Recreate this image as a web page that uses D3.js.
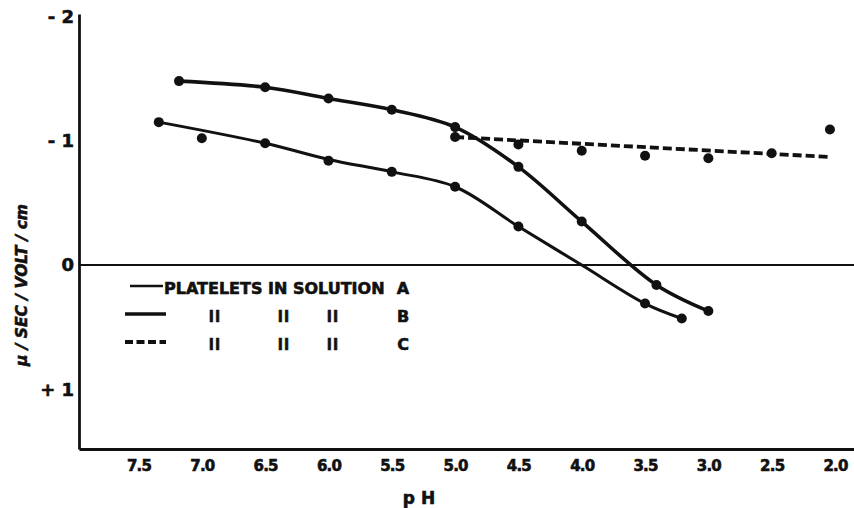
<!DOCTYPE html>
<html>
<head>
<meta charset="utf-8">
<script src="https://cdn.jsdelivr.net/npm/d3@7"></script>
<style>
  body { margin: 0; background: #fff; }
  text { font-family: "DejaVu Sans", sans-serif; font-weight: bold; fill: #111; stroke: #111; stroke-width: 0.6px; }
</style>
</head>
<body>
<div id="chart"></div>
<script>
// pH ticks and mobility ticks
var xTicks = [7.5, 7.0, 6.5, 6.0, 5.5, 5.0, 4.5, 4.0, 3.5, 3.0, 2.5, 2.0];
var yTicks = [-2, -1, 0, 1];
var yTickLabels = ["- 2", "- 1", "0", "+ 1"];

// solution A : measured points and drawn curve
var aPH = [7.34, 7.0, 6.5, 6.0, 5.5, 5.0, 4.5, 3.5, 3.21];
var aMob = [-1.15, -1.02, -0.98, -0.84, -0.75, -0.63, -0.31, 0.31, 0.43];
var aCurvePH = [7.34, 6.5, 6.0, 5.5, 5.0, 4.5, 4.0, 3.5, 3.21];
var aCurveMob = [-1.15, -0.98, -0.85, -0.75, -0.63, -0.31, 0.0, 0.31, 0.43];

// solution B
var bPH = [7.18, 6.5, 6.0, 5.5, 5.0, 4.5, 4.0, 3.41, 3.0];
var bMob = [-1.48, -1.43, -1.34, -1.25, -1.11, -0.79, -0.35, 0.16, 0.37];

// solution C : points and straight dashed fit
var cPH = [5.0, 4.5, 4.0, 3.5, 3.0, 2.5, 2.04];
var cMob = [-1.03, -0.97, -0.92, -0.88, -0.86, -0.90, -1.09];
var cFitPH = [5.0, 2.05];
var cFitMob = [-1.03, -0.87];

var legendRows = ["A", "B", "C"];

var width = 854, height = 508;

var svg = d3.select("#chart")
    .append("svg")
    .attr("width", width)
    .attr("height", height);

var x = d3.scaleLinear().domain([7.97, 1.85]).range([79, 854]);
var y = d3.scaleLinear().domain([-2.02, 1.48]).range([14, 449]);

// zero line
svg.append("line")
    .attr("x1", x.range()[0]).attr("x2", x.range()[1])
    .attr("y1", y(0)).attr("y2", y(0))
    .attr("stroke", "#111")
    .attr("stroke-width", 2);

var xAxis = svg.append("g")
    .attr("transform", "translate(0," + y.range()[1] + ")")
    .call(d3.axisBottom(x).tickValues(xTicks).tickSize(0).tickSizeOuter(0)
        .tickPadding(11).tickFormat(d3.format(".1f")));
xAxis.select(".domain").attr("stroke", "#111").attr("stroke-width", 2.8);
xAxis.selectAll("text").style("font-size", "15px").style("letter-spacing", "-0.8px");

var yAxis = svg.append("g")
    .attr("transform", "translate(" + x.range()[0] + ",0)")
    .call(d3.axisLeft(y).tickValues(yTicks).tickSize(0).tickSizeOuter(0)
        .tickPadding(5).tickFormat(function (d, i) { return yTickLabels[i]; }));
yAxis.select(".domain").attr("stroke", "#111").attr("stroke-width", 2.8);
yAxis.selectAll("text").style("font-size", "18px");

// axis titles
svg.append("text")
    .attr("text-anchor", "middle")
    .attr("x", 419)
    .attr("y", 504)
    .style("font-size", "17px")
    .text("p H");

svg.append("text")
    .attr("text-anchor", "middle")
    .attr("transform", "translate(27,285) rotate(-90)")
    .style("font-size", "15.5px")
    .style("font-style", "italic")
    .text("\u03bc / SEC / VOLT / cm");

function zip(a, b) { return a.map(function (v, i) { return [v, b[i]]; }); }

var line = d3.line()
    .x(function (d) { return x(d[0]); })
    .y(function (d) { return y(d[1]); })
    .curve(d3.curveCatmullRom);

svg.append("path")
    .datum(zip(aCurvePH, aCurveMob))
    .attr("fill", "none")
    .attr("stroke", "#111")
    .attr("stroke-width", 3)
    .attr("d", line);

svg.append("path")
    .datum(zip(bPH, bMob))
    .attr("fill", "none")
    .attr("stroke", "#111")
    .attr("stroke-width", 3.6)
    .attr("d", line);

svg.append("path")
    .datum(zip(cFitPH, cFitMob))
    .attr("fill", "none")
    .attr("stroke", "#111")
    .attr("stroke-width", 3.8)
    .attr("stroke-dasharray", "9,4")
    .attr("d", d3.line()
        .x(function (d) { return x(d[0]); })
        .y(function (d) { return y(d[1]); }));

var allPoints = zip(aPH, aMob).concat(zip(bPH, bMob), zip(cPH, cMob));
svg.append("g")
    .selectAll("circle")
    .data(allPoints)
    .enter()
    .append("circle")
    .attr("cx", function (d) { return x(d[0]); })
    .attr("cy", function (d) { return y(d[1]); })
    .attr("r", 5)
    .attr("fill", "#111");

// legend
var legend = svg.append("g");
var rowY = [288, 316, 344];
var dash = [null, null, "8,3.5"];
var sw = [2.6, 3.4, 3.8];
var x0 = [130, 125, 125];

legendRows.forEach(function (key, i) {
    legend.append("line")
        .attr("x1", x0[i]).attr("x2", i == 0 ? 163 : 166)
        .attr("y1", rowY[i] - 2).attr("y2", rowY[i] - 2)
        .attr("stroke", "#111")
        .attr("stroke-width", sw[i])
        .attr("stroke-dasharray", dash[i]);
    if (i == 0) {
        legend.append("text")
            .attr("x", 164).attr("y", rowY[i] + 6)
            .style("font-size", "16px")
            .text("PLATELETS IN SOLUTION");
    } else {
        [215, 284, 333].forEach(function (px) {
            legend.append("text")
                .attr("x", px).attr("y", rowY[i] + 6)
                .attr("text-anchor", "middle")
                .style("font-size", "15px")
                .style("letter-spacing", "1px")
                .text("ll");
        });
    }
    legend.append("text")
        .attr("x", 403).attr("y", rowY[i] + 6)
        .attr("text-anchor", "middle")
        .style("font-size", "16px")
        .text(key);
});
</script>
</body>
</html>
